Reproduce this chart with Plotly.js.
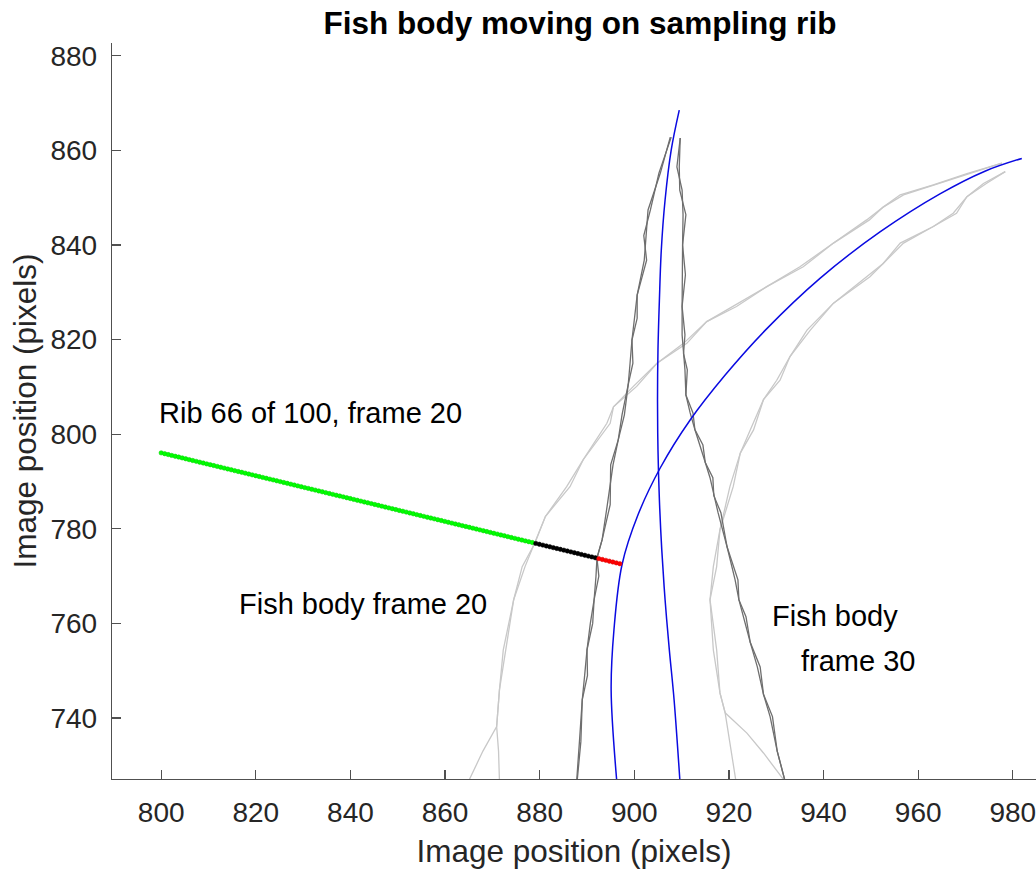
<!DOCTYPE html>
<html>
<head>
<meta charset="utf-8">
<script src="https://cdn.plot.ly/plotly-3.0.1.min.js"></script>
<style>html,body{margin:0;padding:0;background:#fff;}#chart{width:1036px;height:870px;}</style>
</head>
<body>
<div id="chart"></div>
<script>
// ---- Axis ticks ----
const xTicks = [800, 820, 840, 860, 880, 900, 920, 940, 960, 980];
const yTicks = [740, 760, 780, 800, 820, 840, 860, 880];

// ---- Fish body frame 20 (dark grey), left edge, two overlapping traces ----
const body20LeftY  = [862.8, 855.2, 847.4, 842.0, 836.8, 829.4, 824.5, 819.9, 815.0, 810.4, 804.1, 798.8, 793.5, 789.0, 785.1, 777.7, 773.8, 770.0, 765.0, 760.0, 754.4, 749.0, 743.9, 735.0, 726.5];
const body20LeftXa = [907.6, 905.5, 902.9, 902.5, 902.1, 900.6, 900.0, 899.5, 899.1, 898.7, 897.4, 896.6, 895.5, 894.9, 894.3, 893.2, 892.1, 891.9, 891.5, 890.7, 890.0, 889.5, 889.0, 888.4, 887.8];
const body20LeftXb = [907.8, 905.2, 903.4, 902.0, 902.6, 900.6, 900.6, 899.5, 899.7, 898.7, 897.9, 896.6, 895.0, 894.9, 894.9, 893.2, 892.1, 892.5, 891.5, 891.2, 890.0, 890.1, 889.0, 888.7, 887.9];
// right edge
const body20RightY  = [862.6, 856.5, 851.6, 846.4, 840.0, 833.7, 827.0, 821.0, 817.0, 813.6, 808.3, 804.5, 801.0, 797.7, 794.0, 790.8, 787.0, 783.4, 776.2, 769.2, 765.0, 761.4, 756.0, 750.8, 745.0, 740.3, 733.0, 726.5];
const body20RightXa = [909.7, 909.0, 910.1, 910.3, 910.2, 910.1, 910.1, 910.1, 910.4, 910.7, 910.9, 911.8, 912.8, 913.9, 915.0, 916.0, 916.8, 917.7, 919.6, 921.3, 922.1, 923.0, 924.5, 926.0, 927.3, 928.7, 930.2, 931.9];
const body20RightXb = [909.7, 909.5, 909.6, 910.9, 910.2, 910.8, 910.1, 910.7, 910.4, 911.2, 910.9, 912.4, 912.8, 914.5, 915.0, 916.6, 916.8, 918.3, 919.6, 921.9, 922.1, 923.6, 924.5, 926.6, 927.3, 929.2, 930.2, 931.9];

// ---- Fish body frame 30 (light grey) ----
const body30LeftYa = [857.3, 855.1, 852.7, 850.6, 848.0, 845.3, 840.4, 835.4, 831.2, 827.0, 823.8, 819.2, 815.0, 810.1, 805.8, 802.3, 794.6, 788.9, 782.6, 777.0, 772.0, 765.0, 754.4, 746.0, 738.2, 733.0, 726.5];
const body30LeftXa = [977.7, 970.3, 963.2, 956.2, 952.6, 949.1, 942.1, 935.0, 928.0, 920.9, 915.3, 910.4, 904.8, 899.8, 895.6, 894.2, 889.2, 885.7, 881.2, 879.0, 876.3, 874.5, 872.3, 871.5, 870.9, 868.0, 864.9];
const body30LeftYb = [857.3, 855.1, 852.7, 850.6, 848.0, 845.3, 840.4, 835.4, 831.2, 827.0, 823.8, 819.2, 815.0, 810.1, 805.8, 802.3, 794.6, 788.9, 782.6, 777.0, 772.0, 765.0, 754.4, 746.0, 738.2, 733.0, 726.5];
const body30LeftXb = [977.7, 970.9, 963.2, 956.9, 952.6, 949.7, 942.1, 935.7, 928.0, 921.6, 915.3, 911.1, 904.8, 900.5, 895.6, 894.9, 889.2, 886.4, 881.2, 879.0, 876.9, 874.5, 872.9, 871.5, 870.9, 871.3, 871.5];
const body30RightYa = [855.5, 853.0, 850.2, 846.7, 843.9, 840.4, 836.1, 833.3, 827.7, 822.0, 816.4, 811.4, 807.3, 800.9, 796.0, 788.9, 779.8, 772.0, 765.0, 754.4, 745.3, 741.1, 733.0, 726.5];
const body30RightXa = [978.4, 973.8, 970.3, 967.4, 963.2, 956.2, 952.6, 949.1, 942.1, 936.5, 932.9, 930.1, 927.3, 924.5, 922.4, 920.2, 918.1, 916.7, 916.0, 916.7, 918.1, 919.2, 920.4, 921.5];
const body30RightYb = [855.5, 853.0, 850.2, 846.7, 843.9, 840.4, 836.1, 833.3, 827.7, 822.0, 816.4, 811.4, 807.3, 800.9, 796.0, 788.9, 779.8, 772.0, 765.0, 754.4, 745.3, 741.1, 736.8, 732.6, 726.5];
const body30RightXb = [978.4, 974.4, 970.3, 968.1, 963.2, 956.9, 952.6, 949.8, 942.1, 937.2, 932.9, 930.8, 927.3, 925.2, 922.4, 920.9, 918.1, 917.4, 916.0, 917.4, 918.1, 919.2, 923.8, 927.3, 931.9];

// ---- Midlines (blue) ----
const mid20X = [909.5, 907.8, 906.5, 905.7, 905.3, 905.0, 904.9, 905.0, 905.3, 905.8, 906.5, 907.4, 908.4, 909.65];
const mid20Y = [868.5, 860.1, 849.5, 838.9, 828.4, 817.8, 807.3, 796.7, 786.1, 775.6, 765.0, 754.4, 743.9, 726.5];
const mid30X = [896.3, 895.1, 895.7, 897.4, 900.8, 905.5, 911.8, 919.2, 927.7, 939.3, 952.0, 964.6, 974.1, 981.9];
const mid30Y = [726.5, 746.0, 758.7, 772.4, 783.0, 792.9, 803.0, 812.5, 822.0, 833.0, 842.8, 850.8, 855.6, 858.3];

// ---- Sampling rib points ----
const ribGreenX = [800.00,800.74,801.48,802.22,802.96,803.70,804.44,805.18,805.92,806.66,807.40,808.14,808.88,809.62,810.36,811.10,811.84,812.58,813.32,814.06,814.80,815.54,816.28,817.02,817.76,818.50,819.24,819.98,820.72,821.46,822.20,822.94,823.68,824.42,825.16,825.90,826.64,827.38,828.12,828.86,829.60,830.34,831.08,831.82,832.56,833.30,834.04,834.78,835.52,836.26,837.00,837.74,838.48,839.22,839.96,840.70,841.44,842.18,842.92,843.66,844.40,845.14,845.88,846.62,847.36,848.10,848.84,849.58,850.32,851.06,851.80,852.54,853.28,854.02,854.76,855.50,856.24,856.98,857.72,858.46,859.20,859.94,860.68,861.42,862.16,862.90,863.64,864.38,865.12,865.86,866.60,867.34,868.08,868.82,869.56,870.30,871.04,871.78,872.52,873.26,874.00,874.74,875.48,876.22,876.96,877.70,878.44];
const ribGreenY = [796.05,795.87,795.69,795.51,795.33,795.16,794.98,794.80,794.62,794.44,794.26,794.08,793.90,793.72,793.55,793.37,793.19,793.01,792.83,792.65,792.47,792.29,792.11,791.94,791.76,791.58,791.40,791.22,791.04,790.86,790.68,790.50,790.33,790.15,789.97,789.79,789.61,789.43,789.25,789.07,788.89,788.71,788.54,788.36,788.18,788.00,787.82,787.64,787.46,787.28,787.10,786.93,786.75,786.57,786.39,786.21,786.03,785.85,785.67,785.49,785.32,785.14,784.96,784.78,784.60,784.42,784.24,784.06,783.88,783.71,783.53,783.35,783.17,782.99,782.81,782.63,782.45,782.27,782.10,781.92,781.74,781.56,781.38,781.20,781.02,780.84,780.66,780.49,780.31,780.13,779.95,779.77,779.59,779.41,779.23,779.05,778.88,778.70,778.52,778.34,778.16,777.98,777.80,777.62,777.44,777.27,777.09];
const ribBlackX = [879.18,879.92,880.66,881.40,882.14,882.88,883.62,884.36,885.10,885.84,886.58,887.32,888.06,888.80,889.54,890.28,891.02,891.76];
const ribBlackY = [776.91,776.73,776.55,776.37,776.19,776.01,775.83,775.66,775.48,775.30,775.12,774.94,774.76,774.58,774.40,774.22,774.05,773.87];
const ribRedX = [892.50,893.24,893.98,894.72,895.46,896.20,896.94];
const ribRedY = [773.69,773.51,773.33,773.15,772.97,772.79,772.61];

// ---- Text labels ----
const labelTexts = ['Rib 66 of 100, frame 20', 'Fish body frame 20', 'Fish body', 'frame 30'];
const labelX = [799.2, 816.0, 928.7, 934.8];
const labelY = [804.5, 764.1, 761.6, 752.0];

const FONT = 'Liberation Sans, Arial, Helvetica, sans-serif';
const DARK = 'rgb(110,110,110)';
const LIGHT = 'rgb(200,200,200)';
const BLUE = 'rgb(10,10,225)';

function line(x, y, color, width, shape) {
  return {x: x, y: y, type: 'scatter', mode: 'lines', line: {color: color, width: width, shape: shape || 'linear', smoothing: 1}, hoverinfo: 'skip'};
}
function dots(x, y, color, edge) {
  return {x: x, y: y, type: 'scatter', mode: 'markers', marker: {color: color, size: 4.4, line: {width: 0.5, color: edge}}, hoverinfo: 'skip'};
}

const traces = [
  line(body30LeftXa, body30LeftYa, LIGHT, 1.3),
  line(body30LeftXb, body30LeftYb, LIGHT, 1.3),
  line(body30RightXa, body30RightYa, LIGHT, 1.3),
  line(body30RightXb, body30RightYb, LIGHT, 1.3),
  line(body20LeftXa, body20LeftY, DARK, 1.3),
  line(body20LeftXb, body20LeftY, DARK, 1.3),
  line(body20RightXa, body20RightY, DARK, 1.3),
  line(body20RightXb, body20RightY, DARK, 1.3),
  line(mid20X, mid20Y, BLUE, 1.5, 'spline'),
  line(mid30X, mid30Y, BLUE, 1.5, 'spline'),
  dots(ribGreenX, ribGreenY, 'rgb(0,255,0)', 'rgb(0,205,0)'),
  dots(ribBlackX, ribBlackY, 'rgb(0,0,0)', 'rgb(0,0,0)'),
  dots(ribRedX, ribRedY, 'rgb(255,0,0)', 'rgb(215,0,0)')
];

const annotations = labelTexts.map((t, i) => ({
  x: labelX[i], y: labelY[i], xref: 'x', yref: 'y', text: t, showarrow: false,
  xanchor: 'left', yanchor: 'middle', font: {family: FONT, size: 29, color: '#000'}
}));

const axisCommon = {
  showgrid: false, zeroline: false, showline: true, linecolor: '#505050', linewidth: 1.3,
  ticks: 'inside', ticklen: 9, tickwidth: 1.3, tickcolor: '#505050',
  ticklabeloverflow: 'allow',
  tickfont: {family: FONT, size: 28, color: '#262626'}
};

const layout = {
  width: 1036, height: 870,
  margin: {l: 112, r: 0, t: 43, b: 91, pad: 0},
  paper_bgcolor: '#fff', plot_bgcolor: '#fff',
  showlegend: false,
  font: {family: FONT},
  title: {
    text: '<b>Fish body moving on sampling rib</b>',
    font: {family: FONT, size: 31.5, color: '#000'},
    x: 580 / 1036, xref: 'container', xanchor: 'center',
    y: 1 - 23 / 870, yref: 'container', yanchor: 'middle'
  },
  xaxis: Object.assign({}, axisCommon, {
    range: [789.6, 984.9], tickvals: xTicks, ticktext: xTicks.map(String),
    ticklabelstandoff: 8,
    title: {text: 'Image position (pixels)', font: {family: FONT, size: 31.5, color: '#262626'}, standoff: 13}
  }),
  yaxis: Object.assign({}, axisCommon, {
    range: [727.1, 882.7], tickvals: yTicks, ticktext: yTicks.map(String),
    ticklabelstandoff: 8,
    title: {text: 'Image position (pixels)', font: {family: FONT, size: 31.5, color: '#262626'}, standoff: 4}
  }),
  annotations: annotations
};

Plotly.newPlot('chart', traces, layout, {staticPlot: true, displayModeBar: false});
</script>
</body>
</html>
